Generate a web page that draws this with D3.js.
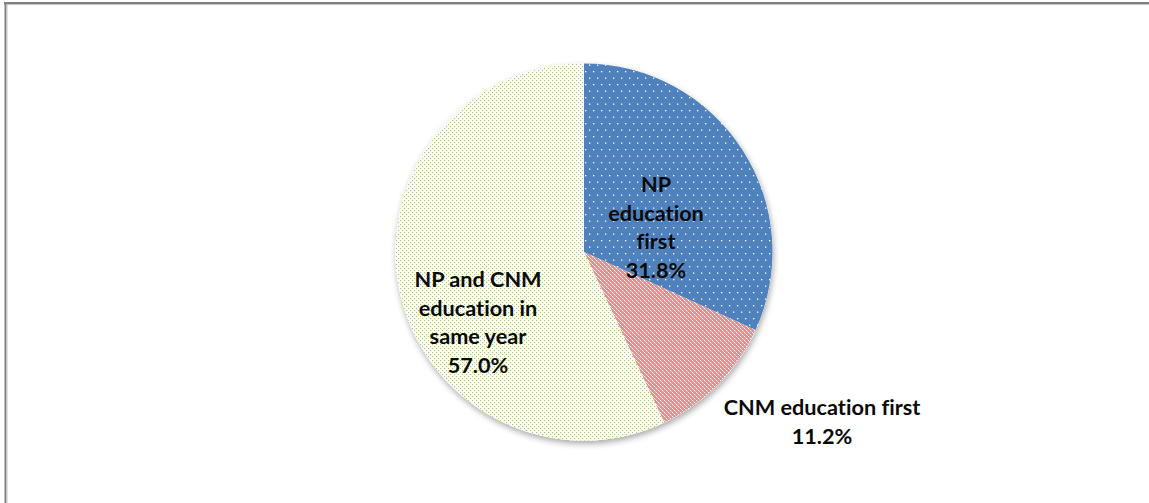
<!DOCTYPE html>
<html><head><meta charset="utf-8">
<script src="https://cdn.jsdelivr.net/npm/d3@7"></script>
<style>html,body{margin:0;padding:0;background:#fff;overflow:hidden}</style>
</head><body>
<svg id="chart" width="1149" height="503"></svg>
<script>
const categories = ["NP education first", "CNM education first", "NP and CNM education in same year"];
const values = [31.8, 11.2, 57.0];
const labelLines = [
  ["NP", "education", "first", "31.8%"],
  ["CNM education first", "11.2%"],
  ["NP and CNM", "education in", "same year", "57.0%"]
];

const svg = d3.select("#chart");
const W = 1149, H = 503;
const cx = 584, cy = 252, R = 188.5;

const defs = svg.append("defs");
// blue dotted pattern
const pb = defs.append("pattern").attr("id","pBlue").attr("patternUnits","userSpaceOnUse")
  .attr("width",8).attr("height",13);
pb.append("rect").attr("width",8).attr("height",13).attr("fill","#4F81BD");
pb.append("rect").attr("x",1).attr("y",1).attr("width",1.3).attr("height",1.3).attr("fill","#ffffff");
pb.append("rect").attr("x",5).attr("y",7.5).attr("width",1.3).attr("height",1.3).attr("fill","#ffffff");
// red checker pattern
const pr = defs.append("pattern").attr("id","pRed").attr("patternUnits","userSpaceOnUse")
  .attr("width",4).attr("height",4);
pr.append("rect").attr("width",4).attr("height",4).attr("fill","#E0908E");
pr.append("rect").attr("x",0).attr("y",0).attr("width",1).attr("height",1).attr("fill","#ffffff");
pr.append("rect").attr("x",2).attr("y",2).attr("width",1).attr("height",1).attr("fill","#ffffff");
pr.append("rect").attr("x",1).attr("y",1).attr("width",1).attr("height",1).attr("fill","#F4CFCE");
pr.append("rect").attr("x",3).attr("y",3).attr("width",1).attr("height",1).attr("fill","#F4CFCE");
// green dotted pattern
const pg = defs.append("pattern").attr("id","pGreen").attr("patternUnits","userSpaceOnUse")
  .attr("width",4).attr("height",4);
pg.append("rect").attr("width",4).attr("height",4).attr("fill","#FCFDF9");
pg.append("rect").attr("x",0).attr("y",0).attr("width",1.1).attr("height",1.1).attr("fill","#A6C768");
pg.append("rect").attr("x",2).attr("y",2).attr("width",1.1).attr("height",1.1).attr("fill","#A6C768");

const shadow = defs.append("filter").attr("id","shadow").attr("x","-20%").attr("y","-20%").attr("width","140%").attr("height","140%");
shadow.append("feDropShadow").attr("dx",1).attr("dy",3).attr("stdDeviation",3)
  .attr("flood-color","#000").attr("flood-opacity",0.35);

// frame
svg.append("line").attr("x1",4).attr("x2",W).attr("y1",3).attr("y2",3).attr("stroke","#808080").attr("stroke-width",2);
svg.append("line").attr("x1",4).attr("x2",W).attr("y1",4.5).attr("y2",4.5).attr("stroke","#c8c8c8").attr("stroke-width",1);
svg.append("line").attr("x1",5.5).attr("x2",5.5).attr("y1",2).attr("y2",H).attr("stroke","#808080").attr("stroke-width",2);
svg.append("line").attr("x1",7).attr("x2",7).attr("y1",4).attr("y2",H).attr("stroke","#c8c8c8").attr("stroke-width",1);

const fills = d3.scaleOrdinal().domain(categories).range(["url(#pBlue)","url(#pRed)","url(#pGreen)"]);
const pie = d3.pie().sort(null).value(d => d.v);
const data = pie(categories.map((c,i) => ({c, v: values[i], lines: labelLines[i]})));
const arc = d3.arc().innerRadius(0).outerRadius(R);

const g = svg.append("g").attr("transform", `translate(${cx},${cy})`);
g.append("circle").attr("r",R).attr("fill","#fff").attr("filter","url(#shadow)");
g.selectAll("path.slice").data(data).enter().append("path")
  .attr("class","slice").attr("d",arc).attr("fill", d => fills(d.data.c));

// label centers (relative to pie centre), first-line baseline
const labelPos = [
  {x: 72, y: 192 - cy},
  {x: 238, y: 415 - cy},
  {x: -106, y: 287 - cy}
];
const lh = 28.6;
data.forEach((d,i) => {
  const t = g.append("text").attr("text-anchor","middle")
    .attr("font-family","Lato, 'Open Sans', sans-serif").attr("font-weight","bold")
    .attr("font-size",21.7).attr("fill","#0a0a0a")
    .style("font-variant-ligatures","none").style("font-feature-settings","'liga' 0");
  d.data.lines.forEach((ln,j) => {
    t.append("tspan").attr("x", labelPos[i].x).attr("y", labelPos[i].y + j*lh).text(ln);
  });
});
</script>
</body></html>
